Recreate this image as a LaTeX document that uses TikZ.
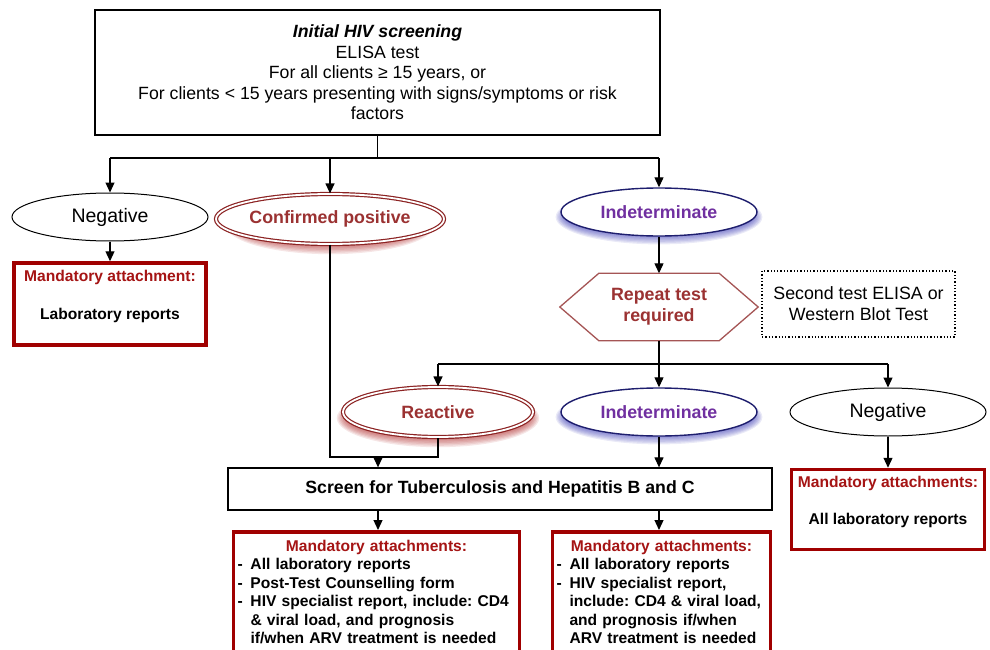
\documentclass[tikz,border=0pt]{standalone}
\usepackage{fontspec}
\setmainfont{Liberation Sans}
\usetikzlibrary{shapes.geometric,arrows.meta,calc}
\pgfdeclarelayer{background}
\pgfsetlayers{background,main}
\definecolor{boxred}{RGB}{160,0,0}
\definecolor{txtred}{RGB}{165,20,20}
\definecolor{ellred}{RGB}{140,35,35}
\definecolor{elltxt}{RGB}{155,50,50}
\definecolor{shred}{RGB}{170,30,30}
\definecolor{indtxt}{RGB}{112,48,160}
\definecolor{navyc}{RGB}{30,30,110}
\definecolor{shblue}{RGB}{45,45,175}
\definecolor{hexcol}{RGB}{165,85,85}
\frenchspacing
\begin{document}
\begin{tikzpicture}[x=1pt,y=-1pt,
  arr/.style={-{Triangle[width=9pt,length=10pt]}, line width=1.2pt},
  conn/.style={line width=1.2pt},
  plainell/.style={ellipse, draw, line width=1pt, fill=white, inner sep=0pt,
    font=\fontsize{19.5}{22}\selectfont},
  redell/.style={ellipse, draw=ellred, double=white, double distance=1.8pt, line width=1.2pt,
    fill=white, inner sep=0pt, text=elltxt, font=\bfseries\fontsize{17.8}{21}\selectfont},
  blueell/.style={ellipse, draw=navyc, line width=1.4pt, fill=white, inner sep=0pt,
    text=indtxt, font=\bfseries\fontsize{17.8}{21}\selectfont},
  mandbox/.style={draw=boxred, line width=3.5pt, fill=white, inner sep=4pt,
    font=\bfseries\fontsize{15.6}{18.3}\selectfont},
  plainbox/.style={draw, line width=1.3pt, fill=white},
  redshadow/.style={shred, opacity=0.11},
  blueshadow/.style={shblue, opacity=0.10}
]
\useasboundingbox (0,0) rectangle (990,650);

% top box
\node[plainbox, minimum width=565pt, minimum height=125pt, align=center,
  font=\fontsize{17.7}{20.5}\selectfont] (top) at (377.5,72.5)
  {\textbf{\textit{Initial HIV screening}}\\ELISA test\\For all clients ≥ 15 years, or\\For clients < 15 years presenting with signs/symptoms or risk\\factors};

% first level
\node[plainell, minimum width=196pt, minimum height=48pt] (neg1) at (110,217) {Negative};
\node[redell, minimum width=196pt, minimum height=50pt] (conf) at (330,219) {Confirmed positive};
\node[blueell, minimum width=196pt, minimum height=48pt] (ind1) at (659,212) {Indeterminate};

\node[mandbox, minimum width=192pt, minimum height=82pt, align=center] (m1) at (110,304)
  {\textcolor{txtred}{Mandatory attachment:}\\[19pt]Laboratory reports\\\mbox{}};

% repeat test
\node[minimum width=120pt, minimum height=67pt, align=center, text=elltxt,
  font=\bfseries\fontsize{17.8}{21}\selectfont] (hex) at (659,307) {Repeat test\\required};
\node[draw, dotted, line width=1.3pt, minimum width=193pt, minimum height=66pt, align=center,
  font=\fontsize{17.8}{21}\selectfont] (second) at (858.5,304) {Second test ELISA or\\Western Blot Test};

% second level
\node[redell, minimum width=190pt, minimum height=50pt] (reac) at (438,412) {Reactive};
\node[blueell, minimum width=196pt, minimum height=48pt] (ind2) at (659,412) {Indeterminate};
\node[plainell, minimum width=196pt, minimum height=48pt] (neg2) at (888,412) {Negative};

\node[plainbox, minimum width=544pt, minimum height=42pt,
  font=\bfseries\fontsize{17.7}{20}\selectfont] (screen) at (500,489)
  {Screen for Tuberculosis and Hepatitis B and C};

\node[mandbox, minimum width=193pt, minimum height=80pt, align=center] (m2) at (888,509.5)
  {\textcolor{txtred}{Mandatory attachments:}\\[18pt]All laboratory reports\\\mbox{}};

\node[mandbox, anchor=north, text width=278pt, align=left, inner xsep=4pt, inner ysep=8pt,
  font=\bfseries\fontsize{15.6}{18.5}\selectfont] (m3) at (376.5,530)
  {{\centering\color{txtred}Mandatory attachments:\par}
   \makebox[13pt][l]{-}All laboratory reports\\
   \makebox[13pt][l]{-}Post-Test Counselling form\\
   \makebox[13pt][l]{-}HIV specialist report, include: CD4\\
   \hspace*{13pt}\& viral load, and prognosis\\
   \hspace*{13pt}if/when ARV treatment is needed};

\node[mandbox, anchor=north, text width=210pt, align=left, inner xsep=4pt, inner ysep=8pt,
  font=\bfseries\fontsize{15.6}{18.5}\selectfont] (m4) at (661.5,530)
  {{\centering\color{txtred}Mandatory attachments:\par}
   \makebox[13pt][l]{-}All laboratory reports\\
   \makebox[13pt][l]{-}HIV specialist report,\\
   \hspace*{13pt}include: CD4 \& viral load,\\
   \hspace*{13pt}and prognosis if/when\\
   \hspace*{13pt}ARV treatment is needed};

% shadows and hexagon outline
\begin{pgfonlayer}{background}
  \foreach \i in {1,...,8} {
    \fill[redshadow] ([yshift=-6pt]conf.center) ellipse [x radius={93pt+1.4pt*\i}, y radius={18pt+1.4pt*\i}];
    \fill[redshadow] ([yshift=-6pt]reac.center) ellipse [x radius={90pt+1.4pt*\i}, y radius={18pt+1.4pt*\i}];
    \fill[blueshadow] ([yshift=-5pt]ind1.center) ellipse [x radius={93pt+1.3pt*\i}, y radius={17pt+1.3pt*\i}];
    \fill[blueshadow] ([yshift=-5pt]ind2.center) ellipse [x radius={93pt+1.3pt*\i}, y radius={17pt+1.3pt*\i}];
  }
  \draw[hexcol, line width=1.3pt, fill=white]
    ($(hex.west)+(-39,0)$) -- (hex.north west) -- (hex.north east) -- ($(hex.east)+(39,0)$)
    -- (hex.south east) -- (hex.south west) -- cycle;
\end{pgfonlayer}

% connectors
\coordinate (s1) at (377.5,158);
\draw[conn] (top.south) -- (s1);
\draw[conn] (s1 -| neg1) -- (s1 -| ind1);
\draw[arr] (s1 -| neg1) -- (neg1.north);
\draw[arr] (s1 -| conf) -- (conf.north);
\draw[arr] (s1 -| ind1) -- (ind1.north);
\draw[arr] (neg1.south) -- (m1.north);
\draw[arr] (ind1.south) -- (hex.north);

\coordinate (s2) at (659,364);
\draw[conn] (hex.south) -- (s2);
\draw[conn] (s2 -| reac) -- (s2 -| neg2);
\draw[arr] (s2 -| reac) -- (reac.north);
\draw[arr] (s2) -- (ind2.north);
\draw[arr] (s2 -| neg2) -- (neg2.north);

\coordinate (j) at (378,457);
\draw[conn] (conf.south) |- (j -| reac) -- (reac.south);
\draw[arr] (j) -- (j |- screen.north);
\draw[arr] (ind2.south) -- (ind2.south |- screen.north);
\draw[arr] (neg2.south) -- (m2.north);
\draw[arr] (screen.south -| j) -- (j |- m3.north);
\draw[arr] (screen.south -| ind2) -- (ind2 |- m4.north);
\end{tikzpicture}
\end{document}
